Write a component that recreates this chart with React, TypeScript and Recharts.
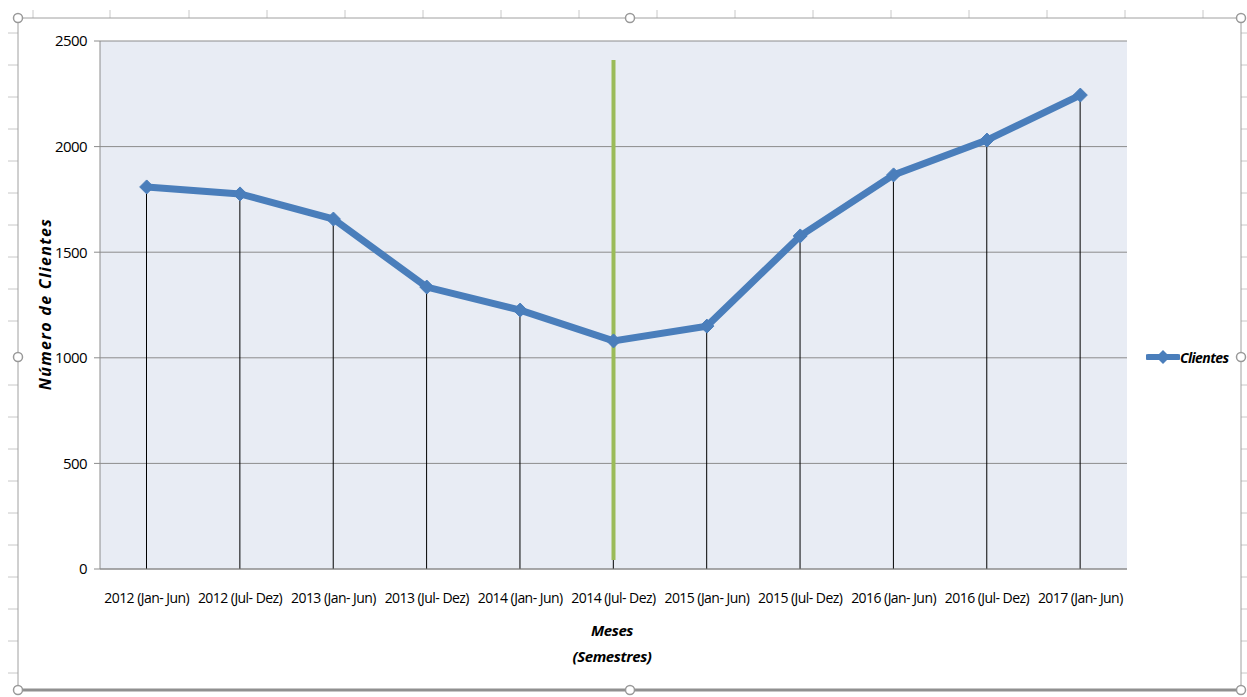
import React from "react";
import {
  ComposedChart,
  Line,
  Bar,
  XAxis,
  YAxis,
  CartesianGrid,
  ReferenceLine,
} from "recharts";

const categories = [
  "2012 (Jan- Jun)",
  "2012 (Jul- Dez)",
  "2013 (Jan- Jun)",
  "2013 (Jul- Dez)",
  "2014 (Jan- Jun)",
  "2014 (Jul- Dez)",
  "2015 (Jan- Jun)",
  "2015 (Jul- Dez)",
  "2016 (Jan- Jun)",
  "2016 (Jul- Dez)",
  "2017 (Jan- Jun)",
];
const clientes = [1809, 1776, 1657, 1335, 1226, 1080, 1150, 1577, 1866, 2031, 2244];
const yTicks = [0, 500, 1000, 1500, 2000, 2500];
const markerCategory = "2014 (Jul- Dez)";
const markerRange = [43, 2410];

const data = categories.map((c, i) => ({ name: c, clientes: clientes[i] }));

const FONT = "'Open Sans', sans-serif";
const BLUE = "#4A7EBB";

const Diamond = (props: any) => {
  const { cx, cy, index } = props;
  if (cx == null || cy == null) return <g key={index} />;
  const r = 7;
  return (
    <path
      key={index}
      d={`M${cx},${cy - r}L${cx + r},${cy}L${cx},${cy + r}L${cx - r},${cy}Z`}
      fill={BLUE}
      stroke={BLUE}
    />
  );
};

const Frame = () => {
  const topTicks = [33, 110, 189, 267, 345, 423, 501, 579, 657, 735, 813, 891, 969, 1047, 1125, 1203];
  const sideTicks = [33, 65, 97, 129, 161, 193, 225, 257, 289, 321, 385, 417, 449, 481, 513, 545, 577, 609, 641, 673];
  const handles: [number, number][] = [
    [18, 18], [630, 18], [1241, 18],
    [18, 357], [1241, 357],
    [18, 690], [630, 690], [1241, 690],
  ];
  return (
    <svg width={1247} height={697} style={{ position: "absolute", left: 0, top: 0, pointerEvents: "none" }}>
      {topTicks.map((x) => (
        <line key={"t" + x} x1={x} x2={x} y1={10} y2={18} stroke="#c8c8c8" />
      ))}
      {sideTicks.map((y) => (
        <line key={"l" + y} x1={8} x2={18} y1={y} y2={y} stroke="#c8c8c8" />
      ))}
      {sideTicks.map((y) => (
        <line key={"r" + y} x1={1241} x2={1247} y1={y} y2={y} stroke="#c8c8c8" />
      ))}
      <line x1={18} x2={1241} y1={18} y2={18} stroke="#a0a0a0" strokeWidth={1} />
      <line x1={18} x2={18} y1={18} y2={690} stroke="#a0a0a0" strokeWidth={1} />
      <line x1={1241} x2={1241} y1={18} y2={690} stroke="#a0a0a0" strokeWidth={1} />
      <line x1={18} x2={1241} y1={690} y2={690} stroke="#909090" strokeWidth={3} />
      {handles.map(([x, y]) => (
        <circle key={x + "-" + y} cx={x} cy={y} r={4.5} fill="#fff" stroke="#999" strokeWidth={1.5} />
      ))}
    </svg>
  );
};

export default function App() {
  return (
    <div style={{ position: "absolute", left: 0, top: 0, width: 1247, height: 697, background: "#fff" }}>
      <Frame />
      <div style={{ position: "absolute", left: 0, top: 0 }}>
        <ComposedChart
          width={1247}
          height={697}
          data={data}
          margin={{ top: 41, right: 120, bottom: 68, left: 0 }}
        >
          <CartesianGrid
            vertical={false}
            fill="#E8ECF4"
            stroke="#8c8c8c"
            horizontalValues={yTicks}
          />
          <XAxis
            dataKey="name"
            height={60}
            tickLine={false}
            axisLine={{ stroke: "#8c8c8c" }}
            tick={{ fontSize: 14, fill: "#000", fontFamily: FONT, letterSpacing: -0.55 }}
            tickMargin={18}
            interval={0}
          />
          <YAxis
            width={100}
            domain={[0, 2500]}
            ticks={yTicks}
            tickLine={{ stroke: "#8c8c8c" }}
            axisLine={{ stroke: "#8c8c8c" }}
            tick={{ fontSize: 15, fill: "#000", fontFamily: FONT, letterSpacing: -0.6 }}
            tickMargin={7}
            tickSize={6}
          />
          <Bar dataKey="clientes" barSize={1} fill="#000" isAnimationActive={false} />
          <Line
            dataKey="clientes"
            stroke={BLUE}
            strokeWidth={7}
            dot={Diamond}
            activeDot={false}
            isAnimationActive={false}
          />
          <ReferenceLine
            segment={[
              { x: markerCategory, y: markerRange[0] },
              { x: markerCategory, y: markerRange[1] },
            ]}
            stroke="#9BBB59"
            strokeWidth={4}
          />
        </ComposedChart>
      </div>
      <div
        style={{
          position: "absolute",
          left: 45,
          top: 304,
          transform: "translate(-50%, -50%) rotate(-90deg)",
          fontFamily: FONT,
          fontWeight: "bold",
          fontStyle: "italic",
          fontSize: 16,
          letterSpacing: 1.3,
          whiteSpace: "nowrap",
          color: "#000",
        }}
      >
        Número de Clientes
      </div>
      <div
        style={{
          position: "absolute",
          left: 612,
          top: 617,
          transform: "translateX(-50%)",
          fontFamily: FONT,
          fontWeight: "bold",
          fontStyle: "italic",
          fontSize: 15,
          letterSpacing: -0.4,
          lineHeight: "26px",
          textAlign: "center",
          whiteSpace: "nowrap",
          color: "#000",
        }}
      >
        <div>Meses</div>
        <div>(Semestres)</div>
      </div>
      <div
        style={{
          position: "absolute",
          left: 1146,
          top: 346,
          display: "flex",
          alignItems: "center",
          fontFamily: FONT,
          fontWeight: "bold",
          fontStyle: "italic",
          fontSize: 14,
          letterSpacing: -0.6,
          color: "#000",
        }}
      >
        <svg width={34} height={22}>
          <line x1={2} x2={32} y1={11} y2={11} stroke={BLUE} strokeWidth={6} strokeLinecap="round" />
          <path d="M17,4L24,11L17,18L10,11Z" fill={BLUE} />
        </svg>
        <span>Clientes</span>
      </div>
    </div>
  );
}
